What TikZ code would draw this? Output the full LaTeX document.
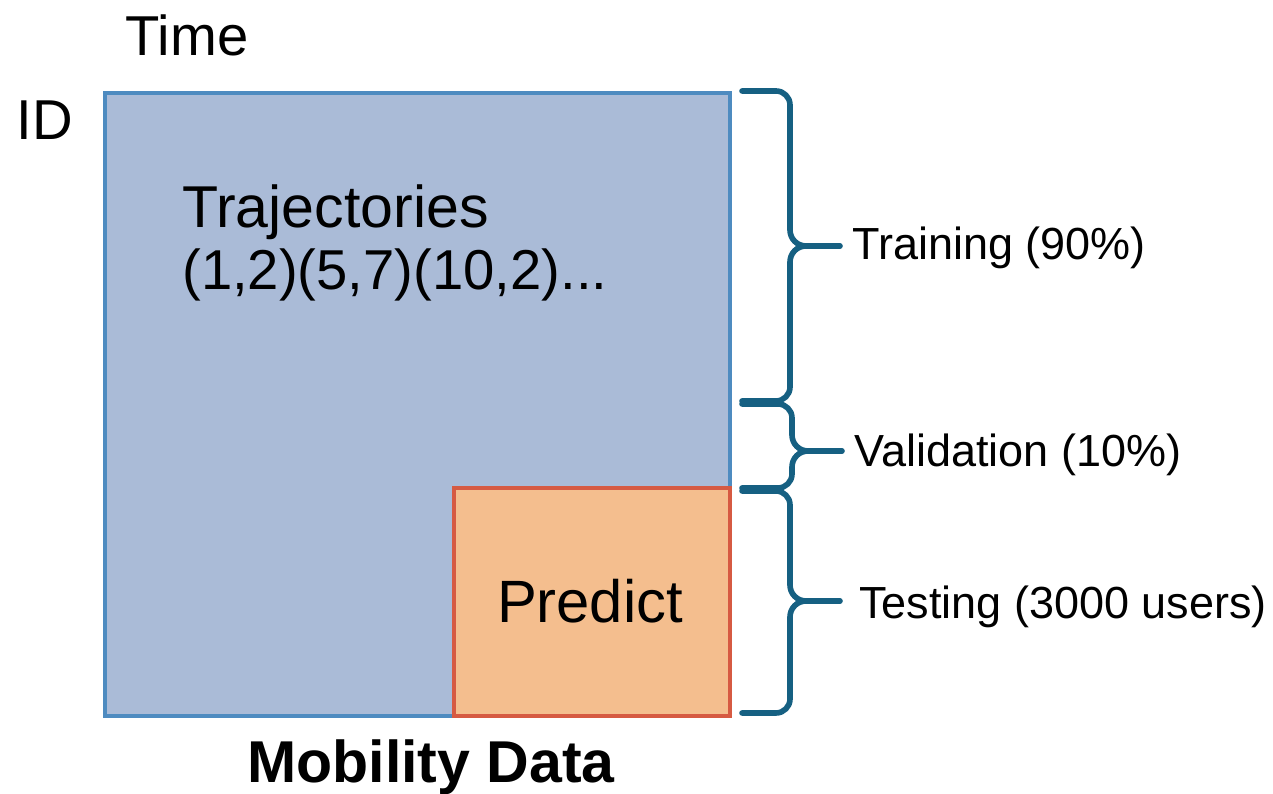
\documentclass[tikz,border=0pt]{standalone}
\usepackage{fontspec}
\setmainfont{Liberation Sans}
\usepackage{tikz}

\definecolor{gridfill}{RGB}{170,187,215}
\definecolor{gridline}{RGB}{78,139,192}
\definecolor{predfill}{RGB}{244,190,142}
\definecolor{predline}{RGB}{214,90,66}
\definecolor{bracecol}{RGB}{22,96,130}

\tikzset{
    bigtext/.style={font=\fontsize{32}{38}\selectfont, inner sep=0pt},
    sidetext/.style={font=\fontsize{25.6}{30}\selectfont, inner sep=0pt, anchor=west},
    bracket/.style={color=bracecol, line width=3.2pt, line cap=round, line join=round}
}

\begin{document}
\begin{tikzpicture}
    \useasboundingbox (0,0) rectangle (25.46,15.88);
    % data matrix and the part to predict
    \draw [fill=gridfill, draw=gridline, line width=2pt] (2.1,1.56) rectangle (14.6,14.02);
    \draw [fill=predfill, draw=predline, line width=2pt] (9.08,1.56) rectangle (14.6,6.12);
    \coordinate (predictBox) at (11.8,3.86);
    \node (predict) at (predictBox) [bigtext, font=\fontsize{34}{40}\selectfont] {Predict};
    \node (time) at (3.74,15.18) [bigtext] {Time};
    \node (id) at (0.9,13.48) [bigtext] {ID};
    \node (trajTitle) at (3.64,11.32) [bigtext, anchor=base west, font=\fontsize{33.6}{40}\selectfont] {Trajectories};
    \node (trajCoords) at (3.64,10.08) [bigtext, anchor=base west] {(1,2)(5,7)(10,2)...};
    \node (dataName) at (8.62,0.22) [bigtext, anchor=base, font=\fontsize{33.6}{40}\selectfont] {\bfseries Mobility Data};
    % training brace
    \draw [bracket] (14.84,14.06) -- (15.52,14.06) to[out=0,in=90] (15.8,13.78) -- (15.8,11.28)
        to[out=-90,in=180] (16.12,10.96) to[out=180,in=90] (15.8,10.64) -- (15.8,8.14)
        to[out=-90,in=0] (15.52,7.86) -- (14.84,7.86);
    \coordinate (trainTip) at (16.8,10.96);
    \draw [bracket] (16.12,10.96) -- (trainTip);
    \node (train) at (17.04,10.92) [sidetext] {Training (90\%)};
    % validation brace
    \draw [bracket] (14.84,7.8) -- (15.56,7.8) to[out=0,in=90] (15.84,7.52) -- (15.84,7.18)
        to[out=-90,in=180] (16.16,6.86) to[out=180,in=90] (15.84,6.54) -- (15.84,6.4)
        to[out=-90,in=0] (15.56,6.12) -- (14.84,6.12);
    \coordinate (validTip) at (16.84,6.86);
    \draw [bracket] (16.16,6.86) -- (validTip);
    \node (valid) at (17.08,6.78) [sidetext] {Validation (10\%)};
    % testing brace
    \draw [bracket] (14.84,6.06) -- (15.52,6.06) to[out=0,in=90] (15.8,5.78) -- (15.8,4.18)
        to[out=-90,in=180] (16.12,3.86) to[out=180,in=90] (15.8,3.54) -- (15.8,1.9)
        to[out=-90,in=0] (15.52,1.62) -- (14.84,1.62);
    \coordinate (testTip) at (16.8,3.86);
    \draw [bracket] (16.12,3.86) -- (testTip);
    \node (test) at (17.18,3.74) [sidetext] {Testing (3000 users)};
\end{tikzpicture}
\end{document}
